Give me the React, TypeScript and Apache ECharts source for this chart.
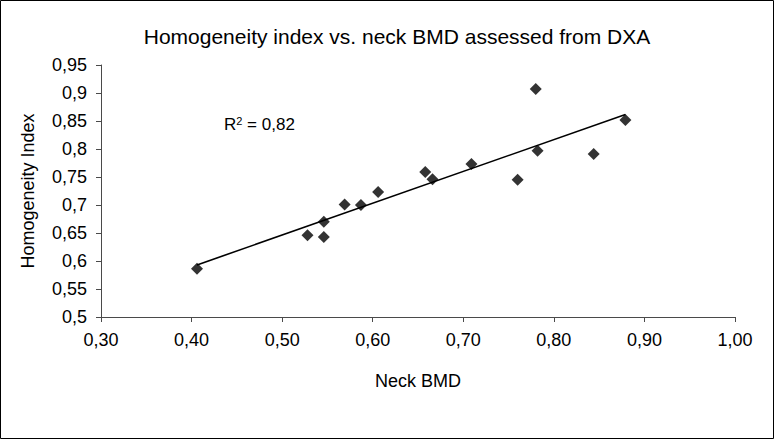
import React, { useEffect, useRef } from "react";
import * as echarts from "echarts";

const neckBMD = [0.406, 0.528, 0.546, 0.546, 0.569, 0.587, 0.606, 0.658, 0.666, 0.709, 0.760, 0.780, 0.782, 0.844, 0.879];
const homogeneity = [0.586, 0.646, 0.670, 0.643, 0.701, 0.700, 0.723, 0.759, 0.746, 0.773, 0.745, 0.907, 0.797, 0.791, 0.852];
const titleText = "Homogeneity index vs. neck BMD assessed from DXA";
const xName = "Neck BMD";
const yName = "Homogeneity Index";
const r2Label = "0,82";

function regression(xs: number[], ys: number[]) {
  const n = xs.length;
  const mx = xs.reduce((a, b) => a + b, 0) / n;
  const my = ys.reduce((a, b) => a + b, 0) / n;
  let sxy = 0, sxx = 0;
  for (let i = 0; i < n; i++) {
    sxy += (xs[i] - mx) * (ys[i] - my);
    sxx += (xs[i] - mx) * (xs[i] - mx);
  }
  const slope = sxy / sxx;
  return { slope, intercept: my - slope * mx };
}

const fmt = (v: number, d?: number) =>
  (d !== undefined ? v.toFixed(d) : String(+v.toFixed(2))).replace(".", ",");

export default function App() {
  const ref = useRef<HTMLDivElement>(null);
  useEffect(() => {
    if (!ref.current) return;
    const chart = echarts.init(ref.current, undefined, { renderer: "svg" });
    const { slope, intercept } = regression(neckBMD, homogeneity);
    const xmin = Math.min(...neckBMD);
    const xmax = Math.max(...neckBMD);
    const font = "'Liberation Sans', Arial, sans-serif";
    chart.setOption({
      animation: false,
      backgroundColor: "#fff",
      title: {
        text: titleText,
        left: 392,
        textAlign: "center",
        top: 21,
        textStyle: { fontFamily: font, fontSize: 21, fontWeight: "normal", color: "#000" },
      },
      grid: { left: 101, right: 40, top: 65, bottom: 123 },
      xAxis: {
        type: "value",
        min: 0.3,
        max: 1.0,
        interval: 0.1,
        name: xName,
        nameLocation: "middle",
        nameGap: 55,
        nameTextStyle: { fontFamily: font, fontSize: 18, color: "#000" },
        axisLine: { lineStyle: { color: "#4a4a4a", width: 1 } },
        axisTick: { show: true, inside: false, length: 5, lineStyle: { color: "#4a4a4a" } },
        axisLabel: { fontFamily: font, fontSize: 18, color: "#000", margin: 14, formatter: (v: number) => fmt(v, 2) },
        splitLine: { show: false },
      },
      yAxis: {
        type: "value",
        min: 0.5,
        max: 0.95,
        interval: 0.05,
        name: yName,
        nameLocation: "middle",
        nameGap: 64,
        nameTextStyle: { fontFamily: font, fontSize: 18, color: "#000" },
        axisLine: { show: true, lineStyle: { color: "#4a4a4a", width: 1 } },
        axisTick: { show: true, inside: false, length: 5, lineStyle: { color: "#4a4a4a" } },
        axisLabel: { fontFamily: font, fontSize: 18, color: "#000", margin: 14, formatter: (v: number) => fmt(v) },
        splitLine: { show: false },
      },
      series: [
        {
          type: "scatter",
          symbol: "diamond",
          symbolSize: 12,
          itemStyle: { color: "#000" },
          data: neckBMD.map((x, i) => [x, homogeneity[i]]),
          z: 3,
        },
        {
          type: "line",
          showSymbol: false,
          symbol: "none",
          lineStyle: { color: "#000", width: 1.6 },
          data: [
            [xmin, intercept + slope * xmin],
            [xmax, intercept + slope * xmax],
          ],
          z: 2,
        },
      ],
      graphic: [
        {
          type: "rect",
          shape: { x: 0.5, y: 0.5, width: 773, height: 438 },
          style: { fill: "none", stroke: "#000", lineWidth: 1 },
          silent: true,
        },
        {
          type: "text",
          x: 224,
          y: 115,
          style: {
            text: "R{sup|2} = " + r2Label,
            fontFamily: font,
            fontSize: 17,
            fill: "#000",
            rich: {
              sup: { fontSize: 11, fontFamily: font, fill: "#000", padding: [0, 0, 8, 0] },
            },
          },
        },
      ],
    });
    return () => chart.dispose();
  }, []);
  return (
    <div
      ref={ref}
      style={{ position: "fixed", left: 0, top: 0, width: 775, height: 440 }}
    />
  );
}
